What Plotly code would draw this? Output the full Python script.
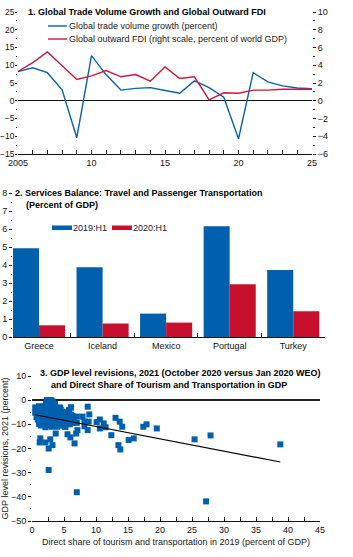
import plotly.graph_objects as go

W, H = 353, 557
FONT = "Liberation Sans, Arial, sans-serif"
BLUE = "#0862b0"
RED = "#cc1a36"
BAR_BLUE = "#0060ae"
BAR_RED = "#c8102e"
FS = 9

# ---------------- Panel 1 data ----------------
years = list(range(2005, 2026))
trade_growth = [8.2, 9.3, 7.9, 3.1, -10.4, 12.7, 7.3, 3.0, 3.5, 3.7, 2.9, 2.1,
                5.6, 3.7, 1.0, -10.7, 7.9, 5.3, 4.2, 3.6, 3.4]
outward_fdi = [3.3, 4.3, 5.5, 4.0, 2.4, 2.8, 3.4, 2.7, 2.95, 2.2, 3.8, 2.5,
               2.7, 0.1, 0.9, 0.85, 1.2, 1.2, 1.3, 1.3, 1.3]
p1_xtickvals = [2005, 2010, 2015, 2020, 2025]
p1_xticktext = ["2005", "10", "15", "20", "25"]
p1_legend = ["Global trade volume growth (percent)",
             "Global outward FDI (right scale, percent of world GDP)"]

# ---------------- Panel 2 data ----------------
countries = ["Greece", "Iceland", "Mexico", "Portugal", "Turkey"]
h1_2019 = [4.93, 3.88, 1.30, 6.15, 3.72]
h1_2020 = [0.65, 0.75, 0.80, 2.93, 1.43]
p2_legend = ["2019:H1", "2020:H1"]

# ---------------- Panel 3 data ----------------
share_x = [0.5, 0.5, 0.8, 1.0, 1.2, 1.3, 1.5, 1.6, 1.8, 1.8, 2.0, 2.0, 2.2, 2.2,
           2.3, 2.4, 2.5, 2.5, 2.6, 2.7, 2.8, 2.8, 2.9, 3.0, 3.0, 3.1, 3.2, 3.2,
           3.3, 3.4, 3.5, 3.5, 3.6, 3.7, 3.8, 3.9, 4.0, 4.1, 4.2, 4.3, 4.5, 4.6,
           4.8, 5.0, 5.0, 5.2, 5.3, 5.4, 5.6, 5.8, 5.9, 6.0, 6.1, 6.3, 6.4, 6.6,
           1.4, 2.1, 0.9, 1.1, 1.7, 2.6, 3.3, 2.4, 1.9, 2.9, 3.6, 4.4, 1.5, 2.3,
           3.0, 3.8, 4.7, 5.5, 2.7,
           0.7, 1.0, 1.3, 1.6, 1.9, 2.2, 2.5, 2.8, 3.1, 3.4, 3.7, 4.0, 4.3, 4.6,
           4.9, 5.2, 5.5, 5.8, 6.1, 1.1, 1.5, 2.0, 2.4, 2.6, 3.2, 3.5, 3.9, 4.2,
           4.8, 5.4, 2.5, 3.0,
           1.3, 1.2, 2.1, 2.6, 2.85, 3.2, 2.6, 3.7, 3.9, 5.2, 5.55, 6.0, 6.65,
           6.1, 7.0, 7.0, 7.1, 6.9, 7.0, 7.9, 8.2, 8.7, 8.95, 8.85, 8.7, 8.2,
           10.1, 10.6, 10.6, 11.2, 11.5, 12.4, 13.05, 13.7, 14.1, 13.5, 13.8,
           15.1, 15.9, 17.4, 17.9, 19.5, 25.4, 27.9, 38.8, 27.2]
gdp_rev = [-3.0, -5.2, -6.5, -4.0, -7.4, -9.2, -5.5, -3.5, -9.9, -2.5, -6.0, -8.0,
           -1.5, -4.5, 0.0, -3.0, -7.0, -10.5, -5.5, -1.0, 0.0, -4.0, -8.5, -2.0,
           -6.5, -11.0, -0.5, -3.5, -5.0, -9.0, -2.5, -7.5, -4.5, -6.0, -10.0,
           -3.5, -8.0, -5.0, -9.5, -6.5, -4.0, -7.5, -10.5, -8.0, -6.0, -11.0,
           -5.0, -9.0, -7.0, -4.0, -10.0, -8.5, -3.0, -6.5, -9.5, -7.5,
           -10.5, -11.2, -8.0, -2.5, -4.5, -2.5, -1.5, -6.0, -7.0, -5.0, -1.5,
           -3.0, -8.5, -9.0, -4.0, -7.0, -5.5, -9.5, -3.0,
           -7.0, -5.8, -3.8, -7.2, -4.2, -9.0, -1.8, -2.5, -8.0, -6.2, -3.0, -5.5,
           -3.8, -9.0, -6.8, -7.8, -5.8, -8.8, -6.0, -9.8, -8.2, -3.0, -5.0, -0.5,
           -1.0, -10.5, -5.8, -7.0, -4.8, -8.2, 0.0, 0.0,
           -15.8, -17.5, -17.5, -20.0, -16.2, -18.6, -28.9, -13.8, -11.0, -11.0,
           -14.1, -15.4, -17.9, -3.0, -6.8, -9.4, -12.4, -13.8, -38.1, -6.8,
           -8.8, -2.7, -5.9, -8.9, -12.4, -10.8, -9.1, -8.0, -11.7, -9.6, -11.2,
           -14.5, -7.3, -8.9, -11.0, -18.6, -20.4, -16.5, -15.8, -11.0, -10.0,
           -11.7, -16.2, -14.6, -18.3, -41.9]
trend_intercept = -5.8
trend_slope = -0.51
p3_xtitle = "Direct share of tourism and transportation in 2019 (percent of GDP)"
p3_ytitle = "GDP level revisions, 2021 (percent)"

titles = [
    ("1. Global Trade Volume Growth and Global Outward FDI", 27, 12),
    ("2. Services Balance: Travel and Passenger Transportation", 14, 193),
    ("(Percent of GDP)", 25, 205),
    ("3. GDP level revisions, 2021 (October 2020 versus Jan 2020 WEO)", 39, 373),
    ("and Direct Share of Tourism and Transportation in GDP", 50, 385),
]


def px_x(x):
    return x / W


def px_y(y):
    return 1 - y / H


fig = go.Figure()

# Panel 1 traces
fig.add_trace(go.Scatter(x=years, y=trade_growth, mode="lines",
                         line=dict(color=BLUE, width=1.4), xaxis="x", yaxis="y",
                         showlegend=False))
fig.add_trace(go.Scatter(x=years, y=outward_fdi, mode="lines",
                         line=dict(color=RED, width=1.4), xaxis="x", yaxis="y2",
                         showlegend=False))

# Panel 2 traces
fig.add_trace(go.Bar(x=countries, y=h1_2019, marker=dict(color=BAR_BLUE, line=dict(width=0)),
                     xaxis="x3", yaxis="y3", showlegend=False, offsetgroup="a"))
fig.add_trace(go.Bar(x=countries, y=h1_2020, marker=dict(color=BAR_RED, line=dict(width=0)),
                     xaxis="x3", yaxis="y3", showlegend=False, offsetgroup="b"))

# Panel 3 traces
fig.add_trace(go.Scatter(x=share_x, y=gdp_rev, mode="markers",
                         marker=dict(symbol="square", size=6, color=BAR_BLUE, line=dict(width=0)),
                         xaxis="x5", yaxis="y5", showlegend=False))
tx = [min(share_x), max(share_x)]
ty = [trend_intercept + trend_slope * v for v in tx]
fig.add_trace(go.Scatter(x=tx, y=ty, mode="lines", line=dict(color="black", width=1.1),
                         xaxis="x5", yaxis="y5", showlegend=False))

tickfont = dict(family=FONT, size=FS, color="#111")
minor_y = dict(ticks="outside", ticklen=1.5, tickcolor="#333", tickwidth=1)
common = dict(automargin=False, showgrid=False)

fig.update_layout(
    template="none",
    width=W, height=H, margin=dict(l=0, r=0, t=0, b=0, pad=0),
    paper_bgcolor="white", plot_bgcolor="white",
    font=dict(family=FONT, size=FS, color="#111"),
    barmode="group", bargap=0.18, bargroupgap=0,
    # Panel 1
    xaxis=dict(domain=[px_x(18), px_x(312)], range=[2005, 2025], anchor="y",
               tickvals=p1_xtickvals, ticktext=p1_xticktext, ticks="inside",
               ticklen=4, tickcolor="#111", showline=True, linecolor="#111",
               linewidth=1, zeroline=False, tickfont=tickfont,
               minor=dict(dtick=1, ticks="inside", ticklen=4, tickcolor="#111"),
               **common),
    yaxis=dict(domain=[px_y(154), px_y(12)], range=[-15, 25], dtick=5,
               ticks="outside", ticklen=2, tickcolor="#111",
               zeroline=True, zerolinecolor="#111", zerolinewidth=1.2,
               tickfont=dict(family=FONT, size=8.4, color="#111"), anchor="x",
               showline=False, ticklabelstandoff=-1,
               minor=dict(dtick=2.5, ticks="outside", ticklen=1, tickcolor="#333"),
               **common),
    yaxis2=dict(overlaying="y", side="right", anchor="x", range=[-6, 10], dtick=2,
                ticks="outside", ticklen=3, tickcolor="#111", showline=False,
                zeroline=False, tickfont=tickfont,
                minor=dict(dtick=1, **minor_y), **common),
    # Panel 2
    xaxis3=dict(domain=[px_x(13), px_x(325)], range=[-0.41, 4.5], anchor="y3",
                type="category", ticks="inside", tickson="boundaries", ticklen=4,
                tickcolor="#111", showline=True, linecolor="#111", linewidth=1,
                tickfont=tickfont, **common),
    yaxis3=dict(domain=[px_y(337), px_y(193)], range=[0, 8], dtick=1,
                ticks="outside", ticklen=3, tickcolor="#111", showline=False,
                zeroline=False, tickfont=tickfont, anchor="x3",
                minor=dict(dtick=0.5, **minor_y), **common),
    yaxis4=dict(overlaying="y3", side="right", anchor="x3", range=[0, 8], dtick=1,
                ticks="outside", ticklen=3, tickcolor="#111", showline=False,
                zeroline=False, showticklabels=False,
                minor=dict(dtick=0.5, **minor_y), **common),
    # Panel 3
    xaxis5=dict(domain=[px_x(32), px_x(320)], range=[0, 45], dtick=5, anchor="y5",
                ticks="inside", ticklen=4, tickcolor="#111", showline=True,
                linecolor="#111", linewidth=1, zeroline=False,
                tickfont=tickfont,
                minor=dict(dtick=2.5, ticks="inside", ticklen=4, tickcolor="#111"),
                title=dict(text=p3_xtitle, font=dict(family=FONT, size=FS, color="#222"),
                           standoff=4), **common),
    yaxis5=dict(domain=[px_y(521), px_y(376)], range=[-50, 10], dtick=10,
                ticks="outside", ticklen=3, tickcolor="#111", showline=False,
                zeroline=True, zerolinecolor="#222", zerolinewidth=1.5,
                tickfont=tickfont, anchor="x5",
                minor=dict(dtick=5, **minor_y),
                title=dict(text=p3_ytitle, font=dict(family=FONT, size=FS, color="#222"),
                           standoff=3), **common),
    yaxis6=dict(overlaying="y5", side="right", anchor="x5", range=[-50, 10], dtick=10,
                ticks="outside", ticklen=3, tickcolor="#111", showline=False,
                zeroline=False, showticklabels=False,
                minor=dict(dtick=5, **minor_y), **common),
)

annotations = []
for text, x0, yc in titles:
    annotations.append(dict(text="<b>" + text + "</b>", x=px_x(x0), y=px_y(yc),
                            xref="paper", yref="paper", xanchor="left", yanchor="middle",
                            showarrow=False, borderpad=0,
                            font=dict(family=FONT, size=FS, color="#000")))

shapes = []
# Panel 1 legend (lines)
for i, (lab, col) in enumerate(zip(p1_legend, [BLUE, RED])):
    yc = 26 + 13 * i
    shapes.append(dict(type="line", xref="paper", yref="paper",
                       x0=px_x(48), x1=px_x(67), y0=px_y(yc), y1=px_y(yc),
                       line=dict(color=col, width=1.4)))
    annotations.append(dict(text=lab, x=px_x(68), y=px_y(yc), xref="paper", yref="paper",
                            xanchor="left", yanchor="middle", showarrow=False, borderpad=0,
                            font=dict(family=FONT, size=FS, color="#222")))
# Panel 2 legend (bars)
for lab, col, xs in zip(p2_legend, [BAR_BLUE, BAR_RED], [52, 112]):
    shapes.append(dict(type="rect", xref="paper", yref="paper",
                       x0=px_x(xs), x1=px_x(xs + 20), y0=px_y(230), y1=px_y(225.5),
                       fillcolor=col, line=dict(width=0)))
    annotations.append(dict(text=lab, x=px_x(xs + 20), y=px_y(228), xref="paper",
                            yref="paper", xanchor="left", yanchor="middle",
                            showarrow=False, borderpad=0,
                            font=dict(family=FONT, size=FS, color="#222")))

fig.update_layout(annotations=annotations, shapes=shapes)

fig.write_html("out.html")
